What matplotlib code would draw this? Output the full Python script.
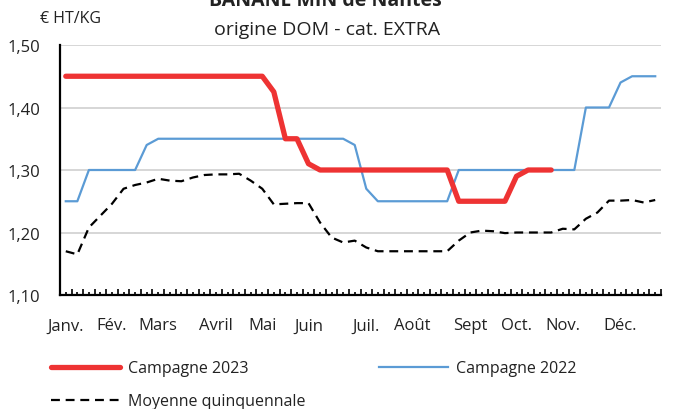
import numpy as np
import matplotlib.pyplot as plt

plt.rcParams['font.family'] = ['Open Sans', 'DejaVu Sans']

# semaines 1..52
semaines = np.arange(52)

campagne_2023 = [1.45] * 18 + [1.425, 1.35, 1.35, 1.31] + [1.30] * 12 + [1.25] * 5 + [1.29, 1.30, 1.30, 1.30]

campagne_2022 = [1.25, 1.25, 1.30, 1.30, 1.30, 1.30, 1.30, 1.34] + [1.35] * 17 + [1.34, 1.27] + \
    [1.25] * 7 + [1.30] * 11 + [1.40, 1.40, 1.40, 1.44, 1.45, 1.45, 1.45]

moyenne = [1.17, 1.165, 1.208, 1.227, 1.246, 1.27, 1.276, 1.28, 1.286, 1.283,
           1.282, 1.288, 1.292, 1.293, 1.293, 1.294, 1.283, 1.27, 1.245, 1.246,
           1.247, 1.247, 1.216, 1.192, 1.184, 1.187, 1.176, 1.17, 1.17, 1.17,
           1.17, 1.17, 1.17, 1.17, 1.187, 1.20, 1.203, 1.202, 1.199, 1.20,
           1.20, 1.20, 1.20, 1.206, 1.205, 1.222, 1.232, 1.251, 1.251, 1.252,
           1.248, 1.252]

mois = ["Janv.", "Fév.", "Mars", "Avril", "Mai", "Juin", "Juil.", "Août",
        "Sept", "Oct.", "Nov.", "Déc."]
mois_semaine = [0, 4, 8, 13, 17, 21, 26, 30, 35, 39, 43, 48]

rouge = "#EE3333"
bleu = "#5B9BD5"
texte = "#222222"

fig = plt.figure(figsize=(6.87, 4.10), dpi=100)
ax = fig.add_axes([60 / 687, 1 - 296 / 410, 601 / 687, 250 / 410])

ax.plot(semaines[:len(moyenne)], moyenne, color="black", lw=1.6, ls=(0, (4, 2.6)),
        label="Moyenne quinquennale", zorder=2)
ax.plot(semaines[:len(campagne_2022)], campagne_2022, color=bleu, lw=1.6,
        label="Campagne 2022", zorder=3)
ax.plot(semaines[:len(campagne_2023)], campagne_2023, color=rouge, lw=3.8,
        solid_capstyle="round", solid_joinstyle="round", label="Campagne 2023", zorder=4)

ax.set_xlim(-0.5, 51.5)
ax.set_ylim(1.10, 1.50)
ax.set_yticks([1.10, 1.20, 1.30, 1.40, 1.50])
ax.set_yticklabels([f"{v:.2f}".replace(".", ",") for v in [1.10, 1.20, 1.30, 1.40, 1.50]],
                   fontsize=12, color=texte)
ax.tick_params(axis="y", length=0, pad=14)
ax.yaxis.grid(True, color="#D0D0D0", lw=1.2)
ax.set_axisbelow(True)

# graduations hebdomadaires
ax.set_xticks(np.arange(-0.5, 52, 1))
ax.set_xticks(semaines, minor=True)
ax.tick_params(axis="x", which="major", direction="in", length=4, width=1.2, labelbottom=False)
ax.tick_params(axis="x", which="minor", direction="in", length=2, width=1.2)
for s, m in zip(mois_semaine, mois):
    ax.text(s, -0.09, m, transform=ax.get_xaxis_transform(), ha="center", va="top",
            fontsize=12, color=texte)

for side in ["top", "right"]:
    ax.spines[side].set_visible(False)
ax.spines["left"].set_linewidth(1.6)
ax.spines["bottom"].set_linewidth(1.6)

fig.text(325 / 687, 1 - 1 / 410, "BANANE MIN de Nantes", ha="center", va="center",
         fontsize=14, fontweight="bold", color=texte)
fig.text(327 / 687, 1 - 30 / 410, "origine DOM - cat. EXTRA", ha="center", va="center",
         fontsize=14, color=texte)
fig.text(40 / 687, 1 - 19 / 410, "€ HT/KG", ha="left", va="center", fontsize=11.5, color=texte)

handles, labels = ax.get_legend_handles_labels()
ordre = [2, 0, 1]
leg = fig.legend([handles[i] for i in ordre], [labels[i] for i in ordre], ncol=2,
                 loc="upper left", bbox_to_anchor=(37 / 687, 1 - 347 / 410), frameon=False,
                 fontsize=11.5, handlelength=4.3, columnspacing=4.6, labelspacing=1.05,
                 handletextpad=0.5, labelcolor=texte)

fig.savefig("out.png", dpi=100)
